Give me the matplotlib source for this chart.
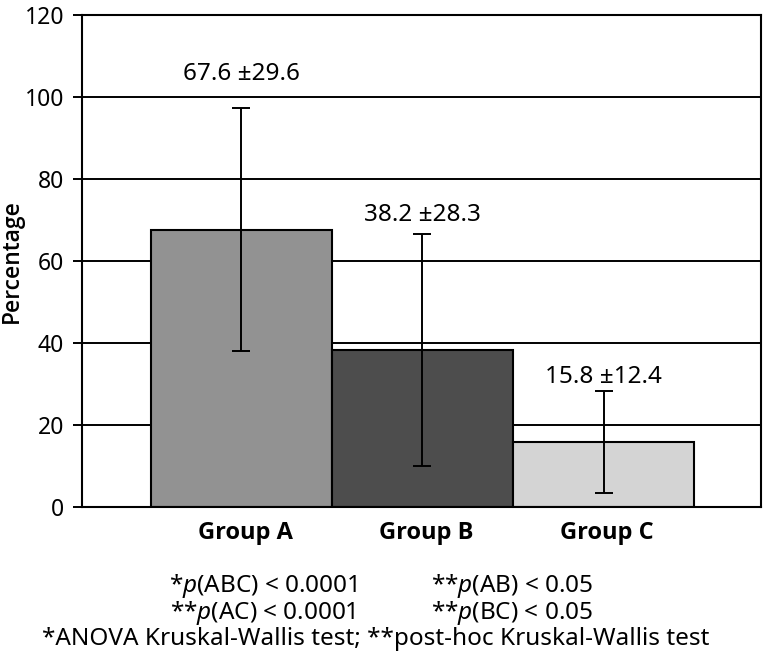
import matplotlib.pyplot as plt
import numpy as np

plt.rcParams['font.family'] = ['Noto Sans', 'DejaVu Sans']
plt.rcParams['mathtext.fontset'] = 'custom'
plt.rcParams['mathtext.rm'] = 'Noto Sans'
plt.rcParams['mathtext.it'] = 'Noto Sans:italic'

groups = ["Group A", "Group B", "Group C"]
means = [67.6, 38.2, 15.8]
sds = [29.6, 28.3, 12.4]
colors = ["#929292", "#4d4d4d", "#d4d4d4"]
label_offsets = [8.5, 4.8, 3.6]  # gap between error bar top and value label

x = np.arange(len(groups))

fig = plt.figure(figsize=(7.63, 6.60), dpi=100)
ax = fig.add_axes([82 / 763, 1 - 507 / 660, (761 - 82) / 763, (507 - 15) / 660])

ax.set_axisbelow(True)
ax.yaxis.grid(True, color='black', linewidth=1.4)
ax.bar(x, means, width=1.0, color=colors, edgecolor='black', linewidth=1.5, zorder=2)
ax.errorbar(x, means, yerr=sds, fmt='none', ecolor='black', elinewidth=1.4,
            capsize=6.5, capthick=1.4, zorder=3)

for xi, m, s, off in zip(x, means, sds, label_offsets):
    ax.text(xi, m + s + off, f"{m} \u00b1{s}", ha='center', va='center', fontsize=17.5)

ax.set_xlim(-0.881, 2.87)
ax.set_ylim(0, 120)
ax.set_yticks(np.arange(0, 121, 20))
ax.tick_params(axis='y', labelsize=16.5, length=6.5, width=1.4, pad=6.5)
ax.set_xticks(x + 0.02, groups)
for lab in ax.get_xticklabels():
    lab.set_fontfamily(['Open Sans', 'DejaVu Sans'])
    lab.set_fontweight('bold')
    lab.set_fontsize(17)
ax.tick_params(axis='x', length=0, pad=10)
ax.set_ylabel("Percentage", fontsize=16.5, fontweight='semibold',
              family=['Open Sans', 'DejaVu Sans'])
ax.yaxis.set_label_coords(-0.085, 0.5)
for sp in ax.spines.values():
    sp.set_linewidth(1.5)
    sp.set_color('black')

fs = 17.5
fig.text(263 / 763, 1 - 592 / 660, r"*$\mathit{p}$(ABC) < 0.0001", ha='center', va='baseline', fontsize=fs)
fig.text(512 / 763, 1 - 592 / 660, r"**$\mathit{p}$(AB) < 0.05", ha='center', va='baseline', fontsize=fs)
fig.text(263 / 763, 1 - 619 / 660, r"**$\mathit{p}$(AC) < 0.0001", ha='center', va='baseline', fontsize=fs)
fig.text(512 / 763, 1 - 619 / 660, r"**$\mathit{p}$(BC) < 0.05", ha='center', va='baseline', fontsize=fs)
fig.text(376 / 763, 1 - 645 / 660, "*ANOVA Kruskal-Wallis test; **post-hoc Kruskal-Wallis test",
         ha='center', va='baseline', fontsize=fs)

fig.savefig("out.png", dpi=100)
